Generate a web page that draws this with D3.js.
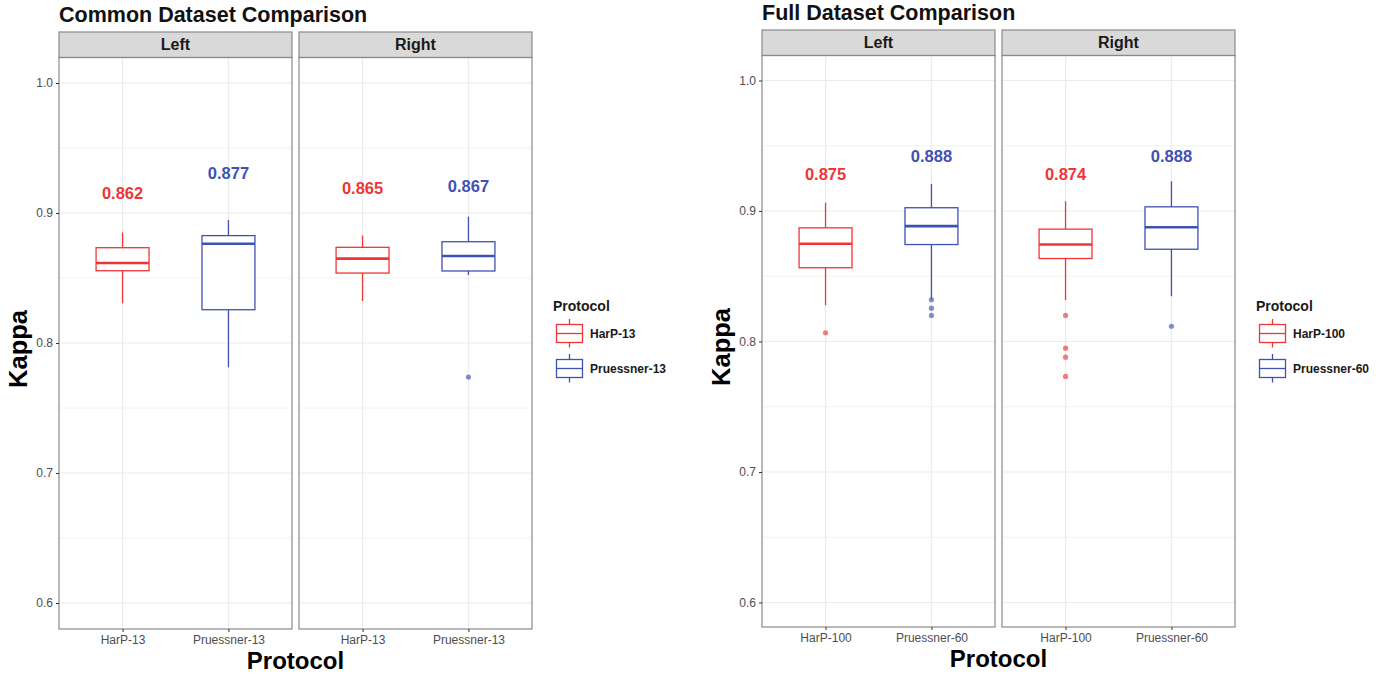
<!DOCTYPE html>
<html>
<head>
<meta charset="utf-8">
<script src="https://cdn.jsdelivr.net/npm/d3@7"></script>
<style>
  body { margin: 0; background: #fff; }
  svg { display: block; font-family: "Liberation Sans", Arial, sans-serif; }
</style>
</head>
<body>
<svg id="chart" width="1382" height="675"></svg>
<script>
    // facets and categories
    var sides = ["Left", "Right"];
    var commonProtocols = ["HarP-13", "Pruessner-13"];
    var fullProtocols = ["HarP-100", "Pruessner-60"];
    var yTicks = [0.6, 0.7, 0.8, 0.9, 1.0];
    var yMinor = [0.65, 0.75, 0.85, 0.95];

    // box stats: [lower whisker, Q1, median, Q3, upper whisker]
    // order: Left/HarP, Left/Pruessner, Right/HarP, Right/Pruessner
    var commonStats = [
        [0.8305, 0.8556, 0.8615, 0.8733, 0.8850],
        [0.7813, 0.8256, 0.8764, 0.8826, 0.8946],
        [0.8323, 0.8538, 0.8649, 0.8736, 0.8826],
        [0.8523, 0.8554, 0.8669, 0.8779, 0.8972]
    ];
    var commonOutliers = [[], [], [], [0.7738]];
    var commonMedianText = ["0.862", "0.877", "0.865", "0.867"];
    var commonTextAt = [0.9155, 0.931, 0.919, 0.921];

    var fullStats = [
        [0.8278, 0.8565, 0.8749, 0.8871, 0.9063],
        [0.8327, 0.8743, 0.8884, 0.9025, 0.9208],
        [0.8317, 0.8636, 0.8743, 0.8861, 0.9075],
        [0.8347, 0.8707, 0.8876, 0.9032, 0.9228]
    ];
    var fullOutliers = [[0.8067], [0.8320, 0.8255, 0.8200], [0.8200, 0.7949, 0.7880, 0.7732], [0.8117]];
    var fullMedianText = ["0.875", "0.888", "0.874", "0.888"];
    var fullTextAt = [0.9287, 0.942, 0.9285, 0.942];

    var colors = ["#ef3535", "#3f51b5"];
    var svg = d3.select("#chart");

    function make_boxplot_chart(cfg) {

        var g = svg.append("g");

        // title
        g.append("text")
         .attr("x", cfg.left)
         .attr("y", cfg.titleY)
         .attr("font-size", "21.5px")
         .attr("font-weight", "bold")
         .attr("fill", "#111")
         .text(cfg.title);

        var yScale = d3.scaleLinear()
                       .domain([0.6, 1.0])
                       .range([cfg.y06, cfg.y10]);

        sides.forEach(function(side, s) {

            var px = cfg.left + s * (cfg.panelW + cfg.gap);

            var xScale = d3.scalePoint()
                           .domain(cfg.protocols)
                           .range([px, px + cfg.panelW])
                           .padding(0.6);
            var unit = xScale.step();

            // strip
            g.append("rect")
             .attr("x", px).attr("y", cfg.stripTop)
             .attr("width", cfg.panelW).attr("height", cfg.top - cfg.stripTop)
             .attr("fill", "#d9d9d9").attr("stroke", "#8a8a8a").attr("stroke-width", 1.2);
            g.append("text")
             .attr("x", px + cfg.panelW / 2)
             .attr("y", (cfg.stripTop + cfg.top) / 2 + 5.5)
             .attr("text-anchor", "middle")
             .attr("font-size", "16px").attr("font-weight", "bold").attr("fill", "#1a1a1a")
             .text(side);

            // grid
            g.selectAll(null).data(yMinor).enter().append("line")
             .attr("x1", px).attr("x2", px + cfg.panelW)
             .attr("y1", function(d) { return yScale(d); })
             .attr("y2", function(d) { return yScale(d); })
             .attr("stroke", "#f2f2f2").attr("stroke-width", 1);
            g.selectAll(null).data(yTicks).enter().append("line")
             .attr("x1", px).attr("x2", px + cfg.panelW)
             .attr("y1", function(d) { return yScale(d); })
             .attr("y2", function(d) { return yScale(d); })
             .attr("stroke", "#ebebeb").attr("stroke-width", 1.2);
            g.selectAll(null).data(cfg.protocols).enter().append("line")
             .attr("x1", function(d) { return xScale(d); })
             .attr("x2", function(d) { return xScale(d); })
             .attr("y1", cfg.top).attr("y2", cfg.bottom)
             .attr("stroke", "#ebebeb").attr("stroke-width", 1.2);

            // boxes
            cfg.protocols.forEach(function(p, i) {
                var k = s * 2 + i;
                var st = cfg.stats[k];
                var cx = xScale(p);
                var bw = unit * 0.5;
                var col = colors[i];

                g.append("line")
                 .attr("x1", cx).attr("x2", cx)
                 .attr("y1", yScale(st[4])).attr("y2", yScale(st[3]))
                 .attr("stroke", col).attr("stroke-width", 1.3);
                g.append("line")
                 .attr("x1", cx).attr("x2", cx)
                 .attr("y1", yScale(st[1])).attr("y2", yScale(st[0]))
                 .attr("stroke", col).attr("stroke-width", 1.3);
                g.append("rect")
                 .attr("x", cx - bw / 2).attr("y", yScale(st[3]))
                 .attr("width", bw).attr("height", yScale(st[1]) - yScale(st[3]))
                 .attr("fill", "white").attr("stroke", col).attr("stroke-width", 1.3);
                g.append("line")
                 .attr("x1", cx - bw / 2).attr("x2", cx + bw / 2)
                 .attr("y1", yScale(st[2])).attr("y2", yScale(st[2]))
                 .attr("stroke", col).attr("stroke-width", 2.6);

                g.selectAll(null).data(cfg.outliers[k]).enter().append("circle")
                 .attr("cx", cx)
                 .attr("cy", function(d) { return yScale(d); })
                 .attr("r", 2.6)
                 .attr("fill", col).attr("fill-opacity", 0.65);

                g.append("text")
                 .attr("x", cx)
                 .attr("y", yScale(cfg.textAt[k]) + 6)
                 .attr("text-anchor", "middle")
                 .attr("font-size", "16.5px").attr("font-weight", "bold")
                 .attr("fill", col)
                 .text(cfg.medianText[k]);
            });

            // panel border
            g.append("rect")
             .attr("x", px).attr("y", cfg.top)
             .attr("width", cfg.panelW).attr("height", cfg.bottom - cfg.top)
             .attr("fill", "none").attr("stroke", "#8a8a8a").attr("stroke-width", 1.2);

            // x axis
            var xAxis = d3.axisBottom(xScale).tickSize(3).tickPadding(3);
            var ax = g.append("g")
                      .attr("transform", "translate(0," + cfg.bottom + ")")
                      .call(xAxis);
            ax.select(".domain").remove();
            ax.selectAll("line").attr("stroke", "#333");
            ax.selectAll("text")
              .attr("font-size", "12px").attr("fill", "#4d4d4d")
              .attr("font-family", "'Liberation Sans', Arial, sans-serif");
        });

        // y axis
        var yAxis = d3.axisLeft(yScale)
                      .tickValues(yTicks)
                      .tickFormat(d3.format(".1f"))
                      .tickSize(3).tickPadding(3);
        var ay = g.append("g")
                  .attr("transform", "translate(" + cfg.left + ",0)")
                  .call(yAxis);
        ay.select(".domain").remove();
        ay.selectAll("line").attr("stroke", "#333");
        ay.selectAll("text")
          .attr("font-size", "12px").attr("fill", "#4d4d4d")
          .attr("font-family", "'Liberation Sans', Arial, sans-serif");

        // axis titles
        var plotW = cfg.panelW * 2 + cfg.gap;
        g.append("text")
         .attr("x", cfg.left + plotW / 2)
         .attr("y", cfg.bottom + 40)
         .attr("text-anchor", "middle")
         .attr("font-size", "24px").attr("font-weight", "bold").attr("fill", "#000")
         .text("Protocol");
        g.append("text")
         .attr("transform", "translate(" + (cfg.left - 32) + "," + cfg.kappaY + ") rotate(-90)")
         .attr("text-anchor", "middle")
         .attr("font-size", "25.5px").attr("font-weight", "bold").attr("fill", "#000")
         .text("Kappa");

        // legend
        var lx = cfg.legendX;
        g.append("text")
         .attr("x", lx).attr("y", 311)
         .attr("font-size", "14px").attr("font-weight", "bold").attr("fill", "#1a1a1a")
         .text("Protocol");
        cfg.protocols.forEach(function(p, i) {
            var cy = 333.5 + i * 35;
            var kx = lx + 3.5;
            var kw = 26;
            var col = colors[i];
            g.append("line")
             .attr("x1", kx + kw / 2).attr("x2", kx + kw / 2)
             .attr("y1", cy - 14.5).attr("y2", cy + 14)
             .attr("stroke", col).attr("stroke-width", 1.3);
            g.append("rect")
             .attr("x", kx).attr("y", cy - 9)
             .attr("width", kw).attr("height", 18)
             .attr("fill", "white").attr("stroke", col).attr("stroke-width", 1.3);
            g.append("line")
             .attr("x1", kx).attr("x2", kx + kw)
             .attr("y1", cy).attr("y2", cy)
             .attr("stroke", col).attr("stroke-width", 1.3);
            g.append("text")
             .attr("x", kx + kw + 7.5).attr("y", cy + 4.5)
             .attr("font-size", "12px").attr("font-weight", "bold").attr("fill", "#1a1a1a")
             .text(p);
        });
    }

    make_boxplot_chart({
        title: "Common Dataset Comparison", titleY: 21.5,
        left: 59, panelW: 233, gap: 7,
        stripTop: 32, top: 57.5, bottom: 629,
        y06: 603, y10: 83,
        protocols: commonProtocols,
        stats: commonStats, outliers: commonOutliers,
        medianText: commonMedianText, textAt: commonTextAt,
        legendX: 553, kappaY: 349
    });

    make_boxplot_chart({
        title: "Full Dataset Comparison", titleY: 19.5,
        left: 762, panelW: 233, gap: 7,
        stripTop: 30, top: 55.5, bottom: 627,
        y06: 602.5, y10: 80.5,
        protocols: fullProtocols,
        stats: fullStats, outliers: fullOutliers,
        medianText: fullMedianText, textAt: fullTextAt,
        legendX: 1256, kappaY: 347
    });
</script>
</body>
</html>
